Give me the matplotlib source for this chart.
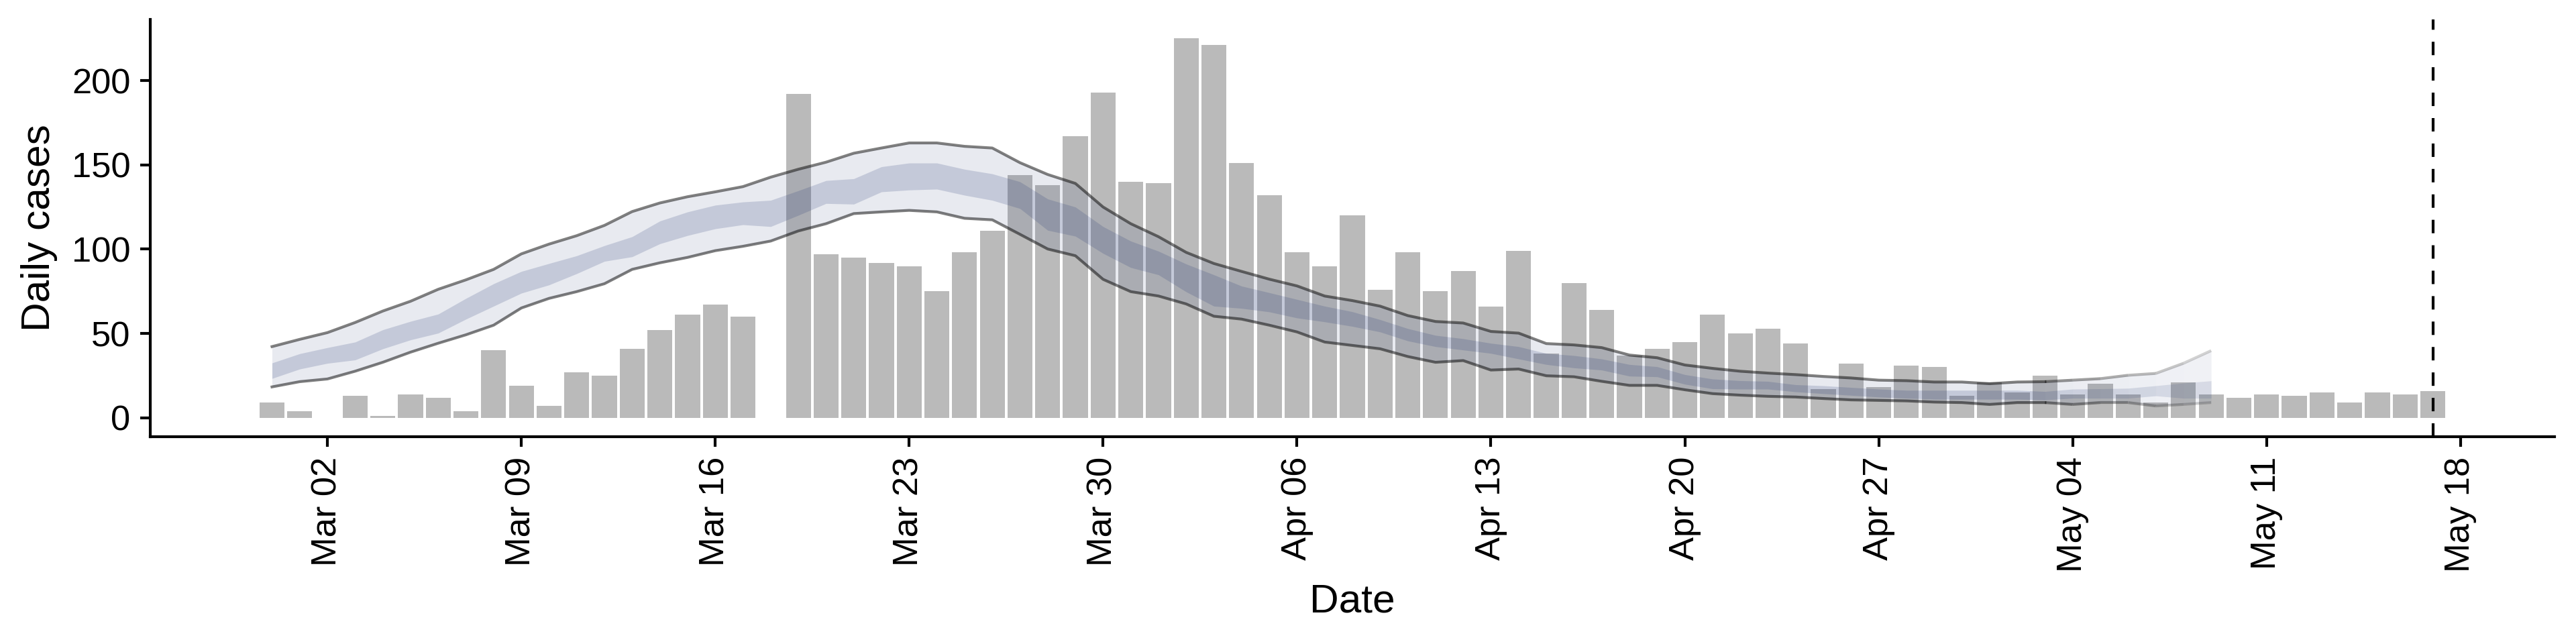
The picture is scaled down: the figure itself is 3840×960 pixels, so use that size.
import numpy as np
import pandas as pd
import matplotlib
matplotlib.use("Agg")
import matplotlib.pyplot as plt
import matplotlib.dates as mdates

plt.rcParams["font.family"] = ["Liberation Sans", "DejaVu Sans"]

# reported daily cases, Feb 29 - May 17 2020
case_dates = pd.date_range("2020-02-29", "2020-05-17", freq="D")
cases = [9, 4, 0, 13, 1, 14, 12, 4, 40, 19, 7, 27, 25, 41, 52, 61, 67, 60, 0,
         192, 97, 95, 92, 90, 75, 98, 111, 144, 138, 167, 193, 140,
         139, 225, 221, 151, 132, 98, 90, 120, 76, 98, 75, 87, 66, 99, 38, 80,
         64, 37, 41, 45, 61, 50, 53, 44, 17, 32, 18, 31, 30, 13,
         21, 15, 25, 14, 20, 14, 9, 21, 14, 12, 14, 13, 15, 9, 15, 14, 16]

# estimated cases by date of infection, Feb 29 - May 09 2020
est_dates = pd.date_range("2020-02-29", "2020-05-09", freq="D")
outer_high = [42.2, 46.5, 50.5, 56.5, 63.3, 69.1, 76.2, 81.8, 88.0, 97.2, 103.0,
              108.0, 114.1, 122.3, 127.4, 131.1, 134.0, 137.1, 142.7, 147.4, 151.6,
              156.9, 160.0, 163.0, 163.0, 161.0, 160.0, 151.3, 144.3, 139.0, 125.0,
              115.1, 107.4, 98.1, 91.5, 86.8, 82.2, 78.2, 72.2, 69.5, 66.2, 60.6,
              57.1, 56.2, 51.2, 50.2, 44.0, 43.2, 41.6, 37.2, 35.6, 31.3, 29.3,
              27.6, 26.5, 25.6, 24.5, 23.6, 22.3, 22.0, 21.2, 21.2, 20.2, 21.2,
              21.4, 22.3, 23.2, 25.2, 26.3, 32.3, 39.8]
inner_high = [32.5, 38.0, 41.6, 44.9, 52.2, 57.2, 61.5, 70.8, 79.5, 86.8, 91.5,
              96.1, 102.1, 107.4, 116.7, 122.1, 126.1, 128.0, 129.0, 134.7, 140.7,
              141.8, 148.9, 151.1, 151.1, 147.4, 144.7, 140.0, 129.8, 125.0, 113.4,
              104.8, 98.8, 91.2, 84.8, 78.1, 74.2, 70.2, 66.2, 62.9, 58.2, 52.9,
              48.9, 46.9, 44.2, 42.2, 38.2, 36.9, 34.9, 31.6, 30.3, 25.6, 23.0,
              22.0, 21.6, 19.6, 19.0, 18.0, 17.0, 16.3, 16.3, 16.3, 16.3, 16.3,
              15.6, 17.0, 17.2, 17.5, 19.0, 20.6, 21.9]
inner_low = [23.3, 28.9, 32.3, 34.3, 40.9, 46.2, 50.2, 58.5, 66.2, 73.9, 78.8,
             85.5, 92.8, 95.5, 103.2, 108.1, 112.1, 114.5, 113.4, 120.1, 127.1,
             126.7, 134.0, 135.1, 135.6, 132.0, 129.0, 124.1, 111.2, 107.7, 97.5,
             89.1, 84.8, 74.7, 66.2, 64.9, 62.8, 59.2, 56.9, 54.2, 50.9, 45.6,
             42.2, 40.2, 38.2, 34.9, 31.6, 29.6, 28.3, 24.7, 24.3, 19.9, 17.2,
             17.0, 17.0, 15.4, 14.3, 13.3, 12.3, 11.6, 11.0, 11.0, 11.0, 11.0,
             10.6, 11.6, 11.6, 11.6, 13.0, 11.6, 11.6]
outer_low = [18.3, 21.4, 23.0, 27.6, 32.9, 38.9, 44.2, 49.2, 54.9, 65.1, 70.8,
             74.8, 79.5, 88.0, 91.9, 95.1, 99.1, 101.7, 104.8, 110.8, 115.1,
             121.1, 122.1, 123.0, 122.1, 118.3, 117.4, 108.8, 100.1, 96.1, 82.1,
             74.8, 72.2, 67.5, 60.2, 58.5, 54.9, 50.9, 44.9, 42.9, 40.9, 36.3,
             32.9, 33.9, 28.3, 28.9, 24.9, 24.3, 21.6, 19.2, 19.2, 16.6, 14.3,
             13.4, 12.7, 12.3, 11.4, 10.6, 10.3, 10.0, 9.3, 9.0, 7.9, 9.0,
             9.0, 7.9, 9.0, 9.0, 7.0, 7.9, 9.0]

cutoff = pd.Timestamp("2020-05-17")

ribbon_col = (35 / 255, 55 / 255, 115 / 255)

fig = plt.figure(figsize=(12.8, 3.2), dpi=300)
ax = fig.add_subplot(111)
fig.subplots_adjust(left=224 / 3840, right=3808 / 3840,
                    bottom=1 - 651 / 960, top=1 - 29 / 960)

xb = mdates.date2num(case_dates)
ax.bar(xb, cases, width=0.9, color="#BABABA", zorder=1)

x = mdates.date2num(est_dates)
lo_o, hi_o = np.array(outer_low), np.array(outer_high)
lo_i, hi_i = np.array(inner_low), np.array(inner_high)

# the last few days fade out (estimates from partial data)
k = len(x) - 7
fade = np.linspace(0.85, 0.35, len(x) - 1 - k)

ax.fill_between(x[:k + 1], lo_o[:k + 1], hi_o[:k + 1], color=ribbon_col,
                alpha=0.1, lw=0, zorder=2)
ax.fill_between(x[:k + 1], lo_i[:k + 1], hi_i[:k + 1], color=ribbon_col,
                alpha=0.18, lw=0, zorder=2)
ax.plot(x[:k + 1], hi_o[:k + 1], color="black", alpha=0.5, lw=1.0, zorder=3)
ax.plot(x[:k + 1], lo_o[:k + 1], color="black", alpha=0.5, lw=1.0, zorder=3)

for j, m in enumerate(fade):
    s = slice(k + j, k + j + 2)
    rm = 0.5 + 0.5 * m
    ax.fill_between(x[s], lo_o[s], hi_o[s], color=ribbon_col,
                    alpha=0.1 * rm, lw=0, zorder=2)
    ax.fill_between(x[s], lo_i[s], hi_i[s], color=ribbon_col,
                    alpha=0.18 * rm, lw=0, zorder=2)
    ax.plot(x[s], hi_o[s], color="black", alpha=0.5 * m, lw=1.0,
            solid_capstyle="butt", zorder=3)
    ax.plot(x[s], lo_o[s], color="black", alpha=0.5 * m, lw=1.0,
            solid_capstyle="butt", zorder=3)

ax.axvline(mdates.date2num(cutoff), color="black", lw=1,
           ls=(0, (4.8, 4.3)), zorder=4)

# ggplot-like 5% expansion
x0, x1 = xb[0] - 0.45, xb[-1] + 0.45
ax.set_xlim(x0 - 0.05 * (x1 - x0), x1 + 0.05 * (x1 - x0))
ymax = max(cases)
ax.set_ylim(-0.05 * ymax, 1.05 * ymax)

ax.xaxis.set_major_locator(mdates.WeekdayLocator(byweekday=mdates.MO))
ax.xaxis.set_major_formatter(mdates.DateFormatter("%b %d"))
ax.set_yticks([0, 50, 100, 150, 200])
for lab in ax.get_xticklabels():
    lab.set_rotation(90)

for side in ["top", "right"]:
    ax.spines[side].set_visible(False)
for side in ["left", "bottom"]:
    ax.spines[side].set_linewidth(1)

ax.tick_params(length=3.6, width=1, labelsize=12.6, pad=3.5, colors="black")
ax.set_xlabel("Date", fontsize=14.5, labelpad=4)
ax.set_ylabel("Daily cases", fontsize=14.5, labelpad=5)

fig.savefig("out.png", dpi=300)
